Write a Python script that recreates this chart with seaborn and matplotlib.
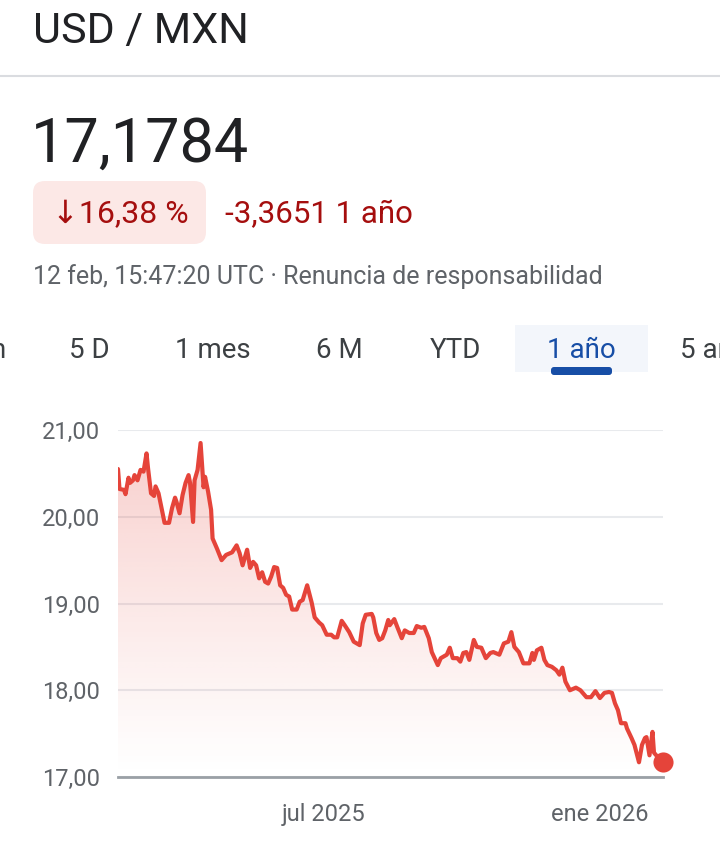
import numpy as np
import pandas as pd
import matplotlib
matplotlib.use("Agg")
import matplotlib.pyplot as plt
import matplotlib.dates as mdates
from matplotlib.patches import FancyBboxPatch, PathPatch, Rectangle
import seaborn as sns

# Data
START_DATE = pd.Timestamp("2025-02-14")
day_offsets = [0, 1, 4, 5, 7, 8, 10, 11, 13, 15, 17, 19, 20, 22, 24, 25, 27, 31, 34, 36,
               38, 39, 41, 43, 45, 47, 48, 50, 51, 53, 55, 56, 57, 58, 60, 62, 63, 66, 69, 72,
               76, 79, 81, 83, 86, 88, 90, 92, 94, 96, 98, 100, 102, 104, 106, 108, 110, 112, 114, 116,
               119, 121, 123, 126, 129, 131, 134, 136, 139, 142, 144, 146, 149, 151, 154, 157, 161, 163, 165, 169,
               170, 172, 174, 176, 178, 180, 181, 184, 186, 189, 191, 194, 197, 199, 202, 204, 207, 209, 213, 215,
               219, 221, 223, 226, 228, 230, 232, 234, 237, 239, 242, 245, 248, 250, 254, 257, 260, 262, 264, 267,
               270, 274, 276, 277, 279, 282, 284, 286, 289, 292, 294, 296, 298, 301, 305, 308, 312, 315, 318, 321,
               324, 327, 329, 331, 333, 335, 338, 339, 342, 344, 347, 349, 351, 352, 354, 356, 357, 360, 363]
rates = [20.55, 20.32, 20.31, 20.26, 20.45, 20.39, 20.42, 20.48, 20.42, 20.54, 20.52, 20.73, 20.56, 20.27, 20.24, 20.35, 20.27, 19.93, 19.93, 20.10,
         20.22, 20.17, 20.04, 20.25, 20.39, 20.48, 20.39, 19.94, 20.42, 20.54, 20.85, 20.60, 20.34, 20.46, 20.29, 20.08, 19.75, 19.63, 19.50, 19.56,
         19.59, 19.67, 19.58, 19.44, 19.62, 19.41, 19.48, 19.44, 19.29, 19.36, 19.25, 19.23, 19.31, 19.42, 19.41, 19.21, 19.18, 19.10, 19.08, 18.93,
         18.93, 19.02, 19.04, 19.21, 19.01, 18.84, 18.78, 18.75, 18.64, 18.64, 18.61, 18.61, 18.80, 18.75, 18.67, 18.56, 18.52, 18.77, 18.87, 18.88,
         18.84, 18.66, 18.58, 18.60, 18.69, 18.81, 18.75, 18.82, 18.73, 18.60, 18.69, 18.66, 18.66, 18.74, 18.72, 18.73, 18.60, 18.44, 18.29, 18.37,
         18.41, 18.49, 18.37, 18.37, 18.33, 18.43, 18.44, 18.35, 18.58, 18.50, 18.49, 18.37, 18.43, 18.44, 18.41, 18.54, 18.56, 18.67, 18.50, 18.44,
         18.31, 18.31, 18.43, 18.35, 18.46, 18.49, 18.35, 18.29, 18.27, 18.23, 18.18, 18.26, 18.10, 18.00, 18.03, 18.00, 17.92, 17.92, 17.99, 17.91,
         17.97, 17.98, 17.97, 17.85, 17.77, 17.62, 17.62, 17.56, 17.45, 17.37, 17.17, 17.37, 17.45, 17.46, 17.25, 17.52, 17.28, 17.22, 17.1784]

y_ticks = [17, 18, 19, 20, 21]
y_tick_labels = ["17,00", "18,00", "19,00", "20,00", "21,00"]
x_tick_dates = ["2025-07-01", "2026-01-01"]
x_tick_labels = ["jul 2025", "ene 2026"]
tab_labels = ["n", "5 D", "1 mes", "6 M", "YTD", "1 año", "5 años"]

# Styling
RED = "#e5443a"
DARK = "#202124"
GREY = "#5f6368"
DOWN = "#a50e0e"
FONT = ["Roboto", "DejaVu Sans"]

sns.set_style("white")
plt.rcParams["font.family"] = FONT

W, H = 720, 842
fig = plt.figure(figsize=(W / 100, H / 100), dpi=100)
fig.patch.set_facecolor("white")

# overlay in pixel units for header / tabs
ov = fig.add_axes([0, 0, 1, 1])
ov.set_xlim(0, W)
ov.set_ylim(H, 0)
ov.axis("off")

ov.text(33, 43, "USD / MXN", fontsize=31, color=DARK, va="baseline")
ov.plot([0, W], [76, 76], color="#dadce0", lw=1.5)
ov.text(31, 162, "17,1784", fontsize=44, color=DARK, va="baseline")

ov.add_patch(FancyBboxPatch((33, 181), 173, 63, boxstyle="round,pad=0,rounding_size=12",
                            facecolor="#fce8e6", edgecolor="none"))
ov.text(52, 223, "\u219316,38 %", fontsize=23, color=DOWN, va="baseline", family=FONT)
ov.text(225, 223, "-3,3651 1 año", fontsize=22.5, color=DOWN, va="baseline")
ov.text(33, 284, "12 feb, 15:47:20 UTC \u00b7 Renuncia de responsabilidad",
        fontsize=18, color=GREY, va="baseline")

# period tabs
ov.add_patch(Rectangle((515, 325), 133, 47, facecolor="#f3f6fb", edgecolor="none"))
ov.add_patch(FancyBboxPatch((551, 367), 61, 8, boxstyle="round,pad=0,rounding_size=3",
                            facecolor="#174ea6", edgecolor="none"))
tab_x = [5, 89, 213, 339, 455, 581, 680]
tab_ha = ["right", "center", "center", "center", "center", "center", "left"]
for label, x, ha in zip(tab_labels, tab_x, tab_ha):
    color = "#174ea6" if label == "1 año" else "#3c4043"
    ov.text(x, 358, label, fontsize=20, color=color, ha=ha, va="baseline")

# chart
ax = fig.add_axes([118 / W, 1 - 777 / H, 545 / W, 347 / H])
ax.set_facecolor("none")

df = pd.DataFrame({"date": START_DATE + pd.to_timedelta(day_offsets, unit="D"), "rate": rates})

sns.lineplot(data=df, x="date", y="rate", color=RED, lw=3.0, ax=ax, zorder=4,
             solid_joinstyle="round", solid_capstyle="round")

# gradient fill under the line
fill = ax.fill_between(df["date"], df["rate"], 17, color="none", lw=0)
clip = PathPatch(fill.get_paths()[0], transform=ax.transData, facecolor="none", edgecolor="none")
ax.add_patch(clip)
grad = np.zeros((256, 1, 4))
grad[..., :3] = matplotlib.colors.to_rgb(RED)
grad[..., 3] = np.linspace(0.0, 0.30, 256)[:, None] ** 1.1
x0 = mdates.date2num(df["date"].iloc[0])
x1 = mdates.date2num(df["date"].iloc[-1])
im = ax.imshow(grad, extent=[x0, x1, 17, 21], origin="lower", aspect="auto", zorder=2,
               interpolation="bilinear")
im.set_clip_path(clip)

ax.scatter(df["date"].iloc[-1:], df["rate"].iloc[-1:], s=210, color=RED, zorder=6,
           clip_on=False, linewidths=0)

ax.set_xlim(x0, x1)
ax.set_ylim(17, 21)
ax.set_aspect("auto")
ax.set_yticks(y_ticks)
ax.set_yticklabels(y_tick_labels)
ax.set_xticks(pd.to_datetime(x_tick_dates))
ax.set_xticklabels(x_tick_labels)
ax.set_xlabel("")
ax.set_ylabel("")

ax.yaxis.grid(True, color="#e8eaed", lw=1.5)
ax.set_axisbelow(True)
for side in ["top", "right", "left"]:
    ax.spines[side].set_visible(False)
ax.spines["bottom"].set_color("#9aa0a6")
ax.spines["bottom"].set_linewidth(2)
ax.spines["bottom"].set_zorder(3)

ax.tick_params(axis="y", length=0, pad=13, labelsize=17, labelcolor=GREY)
ax.tick_params(axis="x", direction="out", length=8, width=2.5, color="#5f6368",
               pad=11, labelsize=17, labelcolor=GREY)

fig.savefig("out.png", dpi=100)
